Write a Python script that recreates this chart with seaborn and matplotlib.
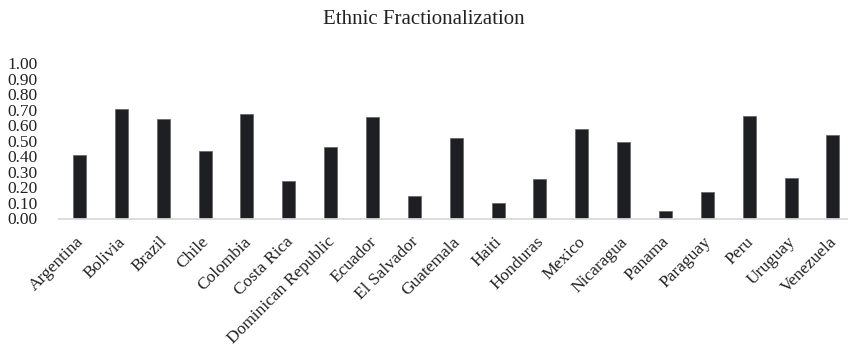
import matplotlib
matplotlib.use("Agg")
import matplotlib.pyplot as plt
import matplotlib.transforms as mtransforms
import seaborn as sns
import pandas as pd

countries = ["Argentina", "Bolivia", "Brazil", "Chile", "Colombia", "Costa Rica",
             "Dominican Republic", "Ecuador", "El Salvador", "Guatemala", "Haiti",
             "Honduras", "Mexico", "Nicaragua", "Panama", "Paraguay", "Peru",
             "Uruguay", "Venezuela"]
fractionalization = [0.406, 0.706, 0.642, 0.432, 0.672, 0.239, 0.458, 0.655, 0.143,
                     0.518, 0.102, 0.252, 0.574, 0.494, 0.046, 0.172, 0.657, 0.258,
                     0.537]
yticks = [0.0, 0.1, 0.2, 0.3, 0.4, 0.5, 0.6, 0.7, 0.8, 0.9, 1.0]

sns.set_theme(style="white")
plt.rcParams["font.family"] = ["Liberation Serif", "DejaVu Serif"]

df = pd.DataFrame({"country": countries, "value": fractionalization})

fig = plt.figure(figsize=(8.48, 3.49), dpi=100)
ax = fig.add_axes([58.5 / 848, 130.5 / 349, (848 - 58.5) / 848, 155.5 / 349])

sns.barplot(data=df, x="country", y="value", color="#1e1f23", width=0.31,
            saturation=1, edgecolor="#6a6a6a", linewidth=0.6, ax=ax)

ax.set_ylim(0, 1.0)
ax.set_xlim(-0.5, len(countries) - 0.5 - 0.14)
ax.set_yticks(yticks)
ax.set_yticklabels([f"{t:.2f}" for t in yticks], fontsize=12.5, color="#222222")
ax.set_xticks(range(len(countries)))
ax.set_xticklabels(countries, rotation=45, ha="right", rotation_mode="anchor",
                   fontsize=12.5, color="#222222")
ax.tick_params(axis="y", length=0, pad=15)
ax.tick_params(axis="x", length=0, pad=11)

# nudge the slanted country names slightly left
shift = mtransforms.ScaledTranslation(-4 / 100, 0, fig.dpi_scale_trans)
for lbl in ax.get_xticklabels():
    lbl.set_transform(lbl.get_transform() + shift)

ax.set_xlabel("")
ax.set_ylabel("")

for side in ["top", "right", "left"]:
    ax.spines[side].set_visible(False)
ax.spines["bottom"].set_color("#d9d9d9")
ax.spines["bottom"].set_linewidth(1.3)

fig.text(0.5, 1 - 20 / 349, "Ethnic Fractionalization", ha="center", va="center",
         fontsize=15, color="#222222")

fig.savefig("out.png", dpi=100)
